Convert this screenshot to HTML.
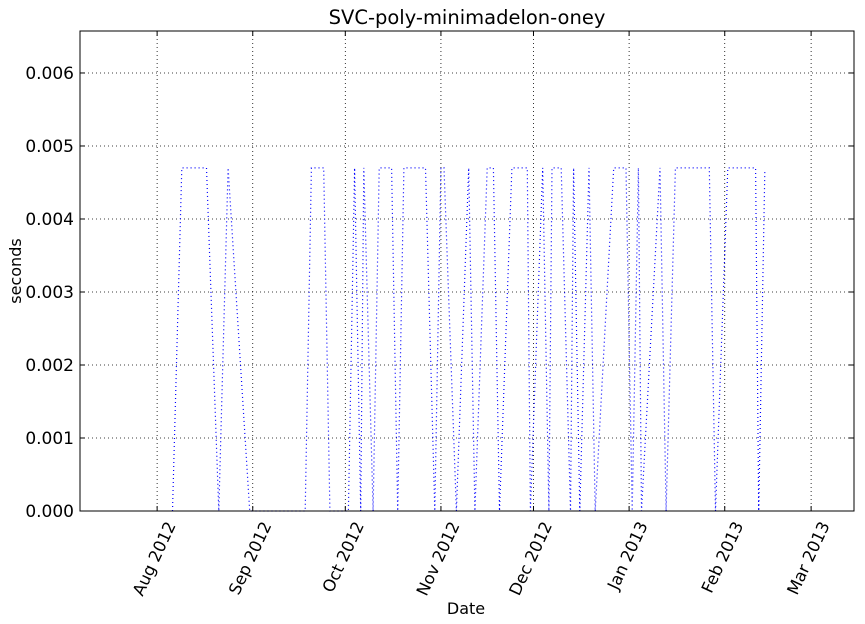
<!DOCTYPE html>
<html><head><meta charset="utf-8"><style>
body{margin:0;background:#fff}
svg{display:block;font-family:"DejaVu Sans","Liberation Sans",sans-serif}
</style></head><body>
<svg id="chart" width="865" height="624" xmlns="http://www.w3.org/2000/svg">
<rect width="865" height="624" fill="#fff"/>
<text x="467" y="24" font-size="19.5" text-anchor="middle">SVC-poly-minimadelon-oney</text>
<text x="466" y="614" font-size="16" text-anchor="middle">Date</text>
<text transform="translate(21,271) rotate(-90)" font-size="16" text-anchor="middle">seconds</text>
<g id="grid"></g><g id="series"></g><g id="axes"></g>
</svg>
<script>
// days since 2012-08-01
const days = [5,8,16,20,23,30,48,50,54,56,62,64,66,67,70,72,76,78,80,87,90,92,93,97,101,103,107,109,111,115,120,121,125,127,128,131,134,135,137,140,142,148,152,154,156,157,163,165,168,179,181,185,194,195,197];
const values = [0,0.0047,0.0047,0,0.0047,0,0,0.0047,0.0047,0,0,0.0047,0,0.0047,0,0.0047,0.0047,0,0.0047,0.0047,0,0.0047,0.0047,0,0.0047,0,0.0047,0.0047,0,0.0047,0.0047,0,0.0047,0,0.0047,0.0047,0,0.0047,0,0.0047,0,0.0047,0.0047,0,0.0047,0,0.0047,0,0.0047,0.0047,0,0.0047,0.0047,0,0.00465];
const yTicks = [0,0.001,0.002,0.003,0.004,0.005,0.006];
const xTickDays = [0,31,61,92,122,153,184,212];
const xTickLabels = ["Aug 2012","Sep 2012","Oct 2012","Nov 2012","Dec 2012","Jan 2013","Feb 2013","Mar 2013"];

const L=80,R=854,T=31,B=511;
const D0=-25.0,D1=225.9,YMAX=0.006575;
const xs=d=>L+(d-D0)/(D1-D0)*(R-L);
const ys=v=>B-v/YMAX*(B-T);
const NS="http://www.w3.org/2000/svg";
function mk(tag,attrs,parent){const e=document.createElementNS(NS,tag);for(const k in attrs)e.setAttribute(k,attrs[k]);parent.appendChild(e);return e;}
const grid=document.getElementById('grid'),series=document.getElementById('series'),axes=document.getElementById('axes');

yTicks.forEach((v,i)=>{
  const y=ys(v);
  const g=mk('line',{x1:L,x2:R,y1:y,y2:y,stroke:'#000','stroke-width':0.8,'stroke-dasharray':'1,3'},grid);
  
  
  const t1=mk('line',{x1:L,x2:L+5,y1:y,y2:y,stroke:'#000'},axes);
  
  
  const t2=mk('line',{x1:R-5,x2:R,y1:y,y2:y,stroke:'#000'},axes);
  
  
  const tx=mk('text',{x:L-6,y:y+6,'font-size':17,'text-anchor':'end'},axes);
  tx.textContent=v.toFixed(3);
  
  
});
xTickDays.forEach((d,i)=>{
  const x=xs(d);
  const g=mk('line',{x1:x,x2:x,y1:T,y2:B,stroke:'#000','stroke-width':0.8,'stroke-dasharray':'1,3'},grid);
  
  
  const t1=mk('line',{x1:x,x2:x,y1:B-5,y2:B,stroke:'#000'},axes);
  
  
  const t2=mk('line',{x1:x,x2:x,y1:T,y2:T+5,stroke:'#000'},axes);
  
  
  const tx=mk('text',{transform:`translate(${x+19},${B+14}) rotate(-65)`,'font-size':16.5,'text-anchor':'end'},axes);
  tx.textContent=xTickLabels[i];
  
  
});
const pts=days.map((d,i)=>xs(d).toFixed(1)+','+ys(values[i]).toFixed(1)).join(' ');
const pl=mk('polyline',{points:pts,fill:'none',stroke:'#0000ff','stroke-width':1.2,'stroke-dasharray':'1,3'},series);


const fr=mk('rect',{x:L,y:T,width:R-L,height:B-T,fill:'none',stroke:'#000','stroke-width':1},axes);


</script>
</body></html>
